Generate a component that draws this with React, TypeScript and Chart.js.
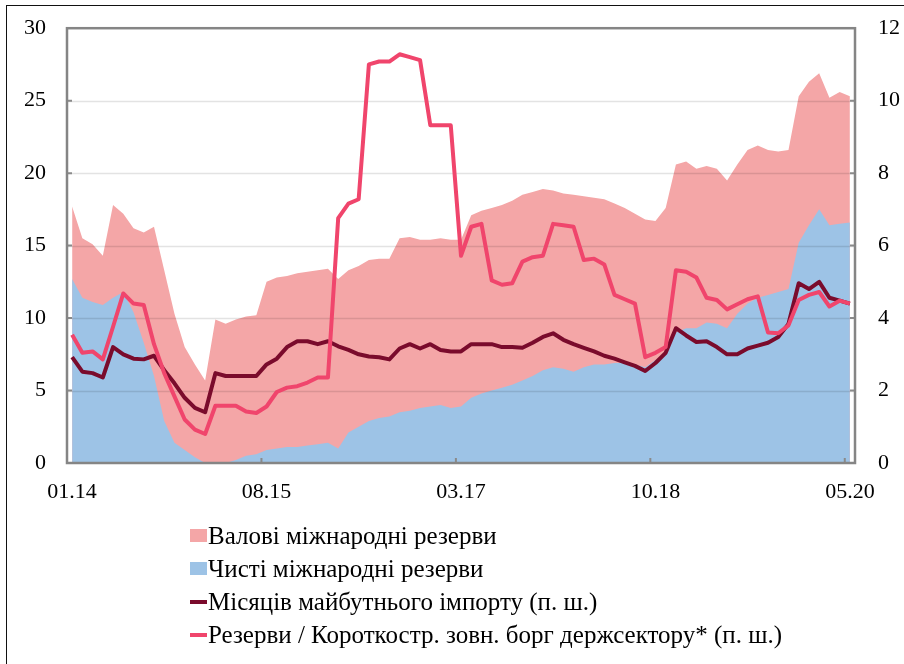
import React, { useEffect, useRef } from "react";
import { Chart, registerables } from "chart.js";

Chart.register(...registerables);

const categories = [
  "01.14","02.14","03.14","04.14","05.14","06.14","07.14","08.14","09.14","10.14","11.14","12.14",
  "01.15","02.15","03.15","04.15","05.15","06.15","07.15","08.15","09.15","10.15","11.15","12.15",
  "01.16","02.16","03.16","04.16","05.16","06.16","07.16","08.16","09.16","10.16","11.16","12.16",
  "01.17","02.17","03.17","04.17","05.17","06.17","07.17","08.17","09.17","10.17","11.17","12.17",
  "01.18","02.18","03.18","04.18","05.18","06.18","07.18","08.18","09.18","10.18","11.18","12.18",
  "01.19","02.19","03.19","04.19","05.19","06.19","07.19","08.19","09.19","10.19","11.19","12.19",
  "01.20","02.20","03.20","04.20","05.20",
];

const shownTickEvery = 19;

// Валові міжнародні резерви (ліва шкала)
const grossReserves = [
  17.7, 15.5, 15.1, 14.3, 17.8, 17.2, 16.2, 15.9, 16.3, 13.3,
  10.3, 8.0, 6.8, 5.7, 9.9, 9.6, 9.9, 10.1, 10.2, 12.5,
  12.8, 12.9, 13.1, 13.2, 13.3, 13.4, 12.7, 13.3, 13.6, 14.0,
  14.1, 14.1, 15.5, 15.6, 15.4, 15.4, 15.5, 15.4, 15.4, 17.1,
  17.4, 17.6, 17.8, 18.1, 18.5, 18.7, 18.9, 18.8, 18.6, 18.5,
  18.4, 18.3, 18.2, 17.9, 17.6, 17.2, 16.8, 16.7, 17.6, 20.6,
  20.8, 20.3, 20.5, 20.3, 19.5, 20.6, 21.6, 21.9, 21.6, 21.5,
  21.6, 25.3, 26.3, 26.9, 25.2, 25.6, 25.3,
];

// Чисті міжнародні резерви (ліва шкала)
const netReserves = [
  12.7, 11.4, 11.1, 10.9, 11.4, 11.8, 10.4, 8.3, 6.0, 2.9,
  1.4, 0.9, 0.4, 0, 0, 0, 0.2, 0.5, 0.6, 0.9,
  1.0, 1.1, 1.1, 1.2, 1.3, 1.4, 1.0, 2.1, 2.5, 2.9,
  3.1, 3.2, 3.5, 3.6, 3.8, 3.9, 4.0, 3.8, 3.9, 4.5,
  4.8, 5.0, 5.2, 5.4, 5.7, 6.0, 6.4, 6.6, 6.5, 6.3,
  6.6, 6.8, 6.8, 6.9, 6.9, 6.8, 6.6, 7.1, 7.5, 9.0,
  9.3, 9.3, 9.7, 9.6, 9.3, 10.3, 11.0, 11.4, 11.6, 11.8,
  12.0, 15.2, 16.4, 17.5, 16.4, 16.5, 16.6,
];

// Місяців майбутнього імпорту (права шкала)
const importMonths = [
  2.92, 2.52, 2.48, 2.36, 3.2, 3.0, 2.88, 2.86, 2.96, 2.56,
  2.2, 1.8, 1.52, 1.4, 2.48, 2.4, 2.4, 2.4, 2.4, 2.72,
  2.88, 3.2, 3.36, 3.36, 3.28, 3.36, 3.22, 3.12, 3.0, 2.94,
  2.92, 2.86, 3.16, 3.28, 3.16, 3.28, 3.12, 3.08, 3.08, 3.28,
  3.28, 3.28, 3.2, 3.2, 3.18, 3.32, 3.48, 3.58, 3.4, 3.28,
  3.18, 3.08, 2.96, 2.88, 2.78, 2.68, 2.54, 2.76, 3.04, 3.72,
  3.52, 3.34, 3.36, 3.2, 3.0, 3.0, 3.16, 3.24, 3.32, 3.48,
  3.84, 4.96, 4.8, 5.0, 4.56, 4.48, 4.4,
];

// Резерви / Короткостр. зовн. борг держсектору (права шкала)
const reservesToDebt = [
  3.54, 3.04, 3.08, 2.86, 3.76, 4.68, 4.4, 4.36, 3.28, 2.48,
  1.84, 1.2, 0.92, 0.8, 1.58, 1.58, 1.58, 1.42, 1.38, 1.56,
  1.96, 2.08, 2.12, 2.22, 2.36, 2.36, 6.76, 7.16, 7.28, 11.0,
  11.08, 11.08, 11.28, 11.2, 11.12, 9.32, 9.32, 9.32, 5.72, 6.52,
  6.6, 5.04, 4.92, 4.96, 5.56, 5.68, 5.72, 6.6, 6.56, 6.52,
  5.6, 5.64, 5.48, 4.64, 4.52, 4.4, 2.92, 3.04, 3.2, 5.32,
  5.28, 5.12, 4.56, 4.5, 4.24, 4.38, 4.52, 4.6, 3.6, 3.58,
  3.8, 4.5, 4.64, 4.72, 4.32, 4.48, 4.4,
];

const seriesNames = [
  "Валові міжнародні резерви",
  "Чисті міжнародні резерви",
  "Місяців майбутнього імпорту (п. ш.)",
  "Резерви / Короткостр. зовн. борг держсектору* (п. ш.)",
];

const leftTicks = [0, 5, 10, 15, 20, 25, 30];

const COLORS = {
  gross: "#f4a6a7",
  net: "#9dc3e6",
  months: "#7a0b2c",
  ratio: "#f0456c",
};

const FONT = "'Liberation Serif', 'Times New Roman', serif";

const framePlugin = {
  id: "framePlugin",
  afterDatasetDraw(chart: any, args: any) {
    if (args.index !== 1) return;
    const { ctx, chartArea: a } = chart;
    const y = chart.scales.y;
    ctx.save();
    ctx.strokeStyle = "rgba(0,0,0,0.11)";
    ctx.lineWidth = 1.5;
    leftTicks.forEach((v) => {
      if (v === 0 || v === 30) return;
      const py = Math.round(y.getPixelForValue(v)) + 0.5;
      ctx.beginPath();
      ctx.moveTo(a.left, py);
      ctx.lineTo(a.right, py);
      ctx.stroke();
    });
    ctx.restore();
  },
  afterDatasetsDraw(chart: any) {
    const { ctx, chartArea: a } = chart;
    const y = chart.scales.y;
    const x = chart.scales.x;
    ctx.save();
    ctx.strokeStyle = "#8a8a8a";
    ctx.lineWidth = 2;
    leftTicks.forEach((v) => {
      if (v === 0 || v === 30) return;
      const py = y.getPixelForValue(v);
      ctx.beginPath();
      ctx.moveTo(a.left, py);
      ctx.lineTo(a.left + 5, py);
      ctx.moveTo(a.right, py);
      ctx.lineTo(a.right - 5, py);
      ctx.stroke();
    });
    const half = (x.getPixelForValue(1) - x.getPixelForValue(0)) / 2;
    for (let i = shownTickEvery; i < categories.length; i += shownTickEvery) {
      const px = x.getPixelForValue(i) - half;
      ctx.beginPath();
      ctx.moveTo(px, a.bottom);
      ctx.lineTo(px, a.bottom - 5);
      ctx.stroke();
    }
    ctx.lineWidth = 2.5;
    ctx.strokeStyle = "#858585";
    ctx.strokeRect(a.left, a.top, a.right - a.left, a.bottom - a.top);
    ctx.restore();
  },
};

function ChartCanvas() {
  const ref = useRef<HTMLCanvasElement | null>(null);
  useEffect(() => {
    if (!ref.current) return;
    const chart = new Chart(ref.current, {
      type: "line",
      data: {
        labels: categories,
        datasets: [
          {
            label: seriesNames[0],
            data: grossReserves,
            yAxisID: "y",
            backgroundColor: COLORS.gross,
            borderWidth: 0,
            pointRadius: 0,
            fill: "origin",
            order: 3,
          },
          {
            label: seriesNames[1],
            data: netReserves,
            yAxisID: "y",
            backgroundColor: COLORS.net,
            borderWidth: 0,
            pointRadius: 0,
            fill: "origin",
            order: 2,
          },
          {
            label: seriesNames[2],
            data: importMonths,
            yAxisID: "y1",
            borderColor: COLORS.months,
            borderWidth: 4,
            pointRadius: 0,
            fill: false,
            order: 1,
          },
          {
            label: seriesNames[3],
            data: reservesToDebt,
            yAxisID: "y1",
            borderColor: COLORS.ratio,
            borderWidth: 4,
            pointRadius: 0,
            fill: false,
            order: 0,
          },
        ],
      },
      options: {
        responsive: false,
        animation: false,
        layout: { padding: { top: 23, left: 0, right: 0, bottom: 0 } },
        plugins: {
          legend: { display: false },
          tooltip: { enabled: false },
        },
        elements: { line: { tension: 0, borderJoinStyle: "round" } },
        scales: {
          x: {
            type: "category",
            offset: true,
            grid: { display: false },
            border: { display: false },
            ticks: {
              autoSkip: false,
              maxRotation: 0,
              minRotation: 0,
              padding: 8,
              color: "#000",
              font: { family: FONT, size: 22 },
              callback: (_v: any, i: number) =>
                i % shownTickEvery === 0 ? categories[i] : null,
            },
            afterFit: (s: any) => {
              s.height = 57;
            },
          },
          y: {
            position: "left",
            min: 0,
            max: 30,
            grid: { display: false },
            border: { display: false },
            ticks: {
              stepSize: 5,
              padding: 13,
              color: "#000",
              font: { family: FONT, size: 22 },
            },
            afterFit: (s: any) => {
              s.width = 67;
            },
          },
          y1: {
            position: "right",
            min: 0,
            max: 12,
            grid: { display: false },
            border: { display: false },
            ticks: {
              stepSize: 2,
              padding: 15,
              color: "#000",
              font: { family: FONT, size: 22 },
            },
            afterFit: (s: any) => {
              s.width = 49;
            },
          },
        },
      },
      plugins: [framePlugin],
    });
    return () => chart.destroy();
  }, []);
  return <canvas ref={ref} width={904} height={520} style={{ display: "block" }} />;
}

function LegendRow({ kind, color, text }: { kind: "box" | "line"; color: string; text: string }) {
  return (
    <div style={{ display: "flex", alignItems: "center", height: 33 }}>
      <span
        style={{
          display: "inline-block",
          width: 17,
          height: kind === "box" ? 13 : 4,
          background: color,
          marginRight: 1,
        }}
      />
      <span>{text}</span>
    </div>
  );
}

export default function App() {
  return (
    <div
      style={{
        position: "absolute",
        left: 0,
        top: 0,
        width: 904,
        height: 664,
        overflow: "hidden",
        background: "#fff",
      }}
    >
      <div
        style={{
          position: "absolute",
          left: 6,
          top: 5,
          width: 920,
          height: 700,
          borderLeft: "1.5px solid #111",
          borderTop: "1.5px solid #111",
        }}
      />
      <div style={{ position: "absolute", left: 0, top: 0 }}>
        <ChartCanvas />
      </div>
      <div
        style={{
          position: "absolute",
          left: 190,
          top: 519,
          fontFamily: FONT,
          fontSize: 25,
          color: "#000",
          lineHeight: "33px",
          whiteSpace: "nowrap",
        }}
      >
        <LegendRow kind="box" color={COLORS.gross} text={seriesNames[0]} />
        <LegendRow kind="box" color={COLORS.net} text={seriesNames[1]} />
        <LegendRow kind="line" color={COLORS.months} text={seriesNames[2]} />
        <LegendRow kind="line" color={COLORS.ratio} text={seriesNames[3]} />
      </div>
    </div>
  );
}
